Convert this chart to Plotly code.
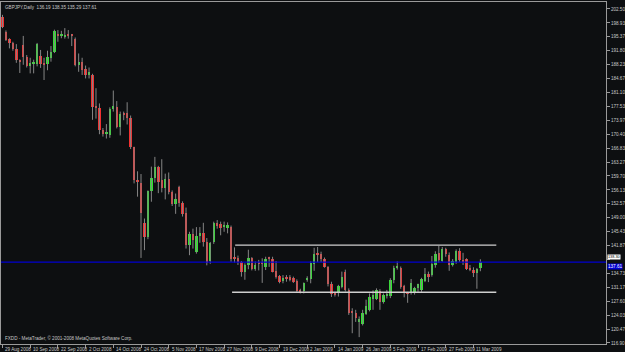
import plotly.graph_objects as go

# ---------------- data (GBPJPY daily) ----------------
opens = [200.4, 196.7, 194.7, 193.9, 192.2, 189.3, 193.3, 190.3, 187.9, 188.4,
         188.3, 190.5, 188.4, 188.3, 190.0, 191.5, 196.1, 195.6, 195.4, 196.0,
         195.7, 194.7, 188.1, 188.8, 187.0, 185.5, 185.6, 177.6, 177.1, 171.5,
         170.5, 170.2, 176.8, 177.4, 172.3, 175.7, 175.8, 174.6, 167.1, 158.7,
         157.9, 147.7, 144.1, 155.8, 159.3, 162.0, 158.6, 156.5, 158.9, 155.6,
         152.4, 156.8, 152.7, 150.2, 142.0, 144.8, 140.2, 144.4, 145.0, 142.8,
         138.0, 142.8, 147.6, 147.3, 146.7, 146.4, 146.6, 138.8, 138.8, 137.7,
         135.2, 136.8, 138.6, 135.8, 137.4, 137.6, 136.4, 138.6, 138.5, 135.3,
         134.0, 132.8, 133.6, 133.8, 133.6, 132.8, 130.3, 130.1, 133.0, 133.3,
         137.1, 139.7, 139.7, 138.5, 136.4, 132.0, 129.5, 129.6, 131.2, 135.2,
         130.5, 124.8, 124.5, 122.2, 121.8, 124.4, 125.4, 128.3, 128.3, 130.3,
         127.5, 129.1, 128.9, 133.1, 136.0, 136.1, 131.5, 129.7, 129.7, 129.9,
         130.9, 130.4, 132.8, 134.6, 134.4, 137.0, 140.0, 138.0, 140.9, 139.5,
         136.9, 137.6, 140.4, 138.1, 138.4, 136.1, 135.6, 134.8, 136.19]
highs = [201.0, 197.0, 195.0, 194.1, 193.5, 189.6, 195.6, 190.7, 190.0, 189.5,
         193.8, 192.0, 190.0, 191.8, 193.0, 197.2, 197.1, 196.9, 197.6, 197.1,
         196.1, 195.2, 191.1, 190.0, 188.0, 187.5, 185.9, 182.2, 178.3, 172.0,
         173.0, 177.3, 181.6, 178.9, 176.2, 176.2, 178.6, 175.2, 167.2, 160.9,
         160.2, 148.8, 156.0, 162.1, 164.6, 162.3, 164.0, 160.3, 160.6, 156.0,
         155.2, 157.2, 153.2, 151.6, 145.4, 146.2, 146.6, 146.6, 147.7, 143.8,
         142.8, 148.0, 148.4, 148.0, 148.0, 147.8, 147.0, 141.4, 139.3, 137.9,
         137.3, 140.8, 138.9, 137.8, 138.2, 138.6, 139.0, 139.0, 139.0, 137.9,
         134.3, 134.3, 134.3, 134.3, 133.9, 133.2, 130.8, 132.4, 134.0, 137.8,
         141.3, 141.5, 140.3, 138.8, 136.6, 132.6, 130.0, 131.8, 135.2, 135.7,
         130.9, 125.8, 125.4, 123.7, 125.4, 128.0, 129.6, 130.4, 130.9, 130.7,
         129.6, 130.5, 133.5, 136.7, 137.8, 136.5, 131.8, 130.0, 133.3, 131.3,
         132.1, 133.6, 136.1, 135.2, 139.2, 140.4, 141.8, 141.5, 141.3, 140.1,
         138.4, 140.9, 141.2, 140.0, 138.6, 136.9, 136.3, 136.1, 138.35]
lows = [197.6, 194.3, 192.4, 191.8, 188.7, 186.1, 188.2, 187.5, 186.0, 186.0,
        187.8, 187.4, 184.3, 186.8, 189.0, 191.2, 194.1, 195.0, 194.9, 194.9,
        193.0, 187.8, 186.4, 185.6, 184.7, 184.7, 174.1, 174.4, 170.4, 169.8,
        169.3, 169.5, 176.2, 171.9, 170.1, 174.0, 172.9, 166.6, 157.8, 154.4,
        138.7, 140.7, 143.5, 153.1, 158.0, 155.3, 155.5, 153.7, 155.0, 152.0,
        150.0, 151.8, 149.3, 141.1, 139.4, 141.1, 139.8, 142.6, 141.6, 136.8,
        137.2, 142.3, 146.2, 144.5, 145.4, 145.0, 137.7, 137.5, 136.9, 133.9,
        133.1, 135.8, 135.5, 135.4, 135.5, 132.3, 135.6, 136.4, 135.0, 133.4,
        132.2, 132.2, 132.6, 132.7, 132.3, 130.0, 129.6, 129.6, 132.6, 132.2,
        135.4, 137.6, 137.6, 136.2, 131.4, 128.7, 128.8, 128.8, 130.9, 130.1,
        124.1, 119.4, 122.3, 118.4, 121.4, 124.1, 125.0, 125.4, 127.9, 125.4,
        127.0, 128.3, 128.4, 132.2, 135.7, 130.8, 128.6, 127.2, 129.3, 129.3,
        130.0, 130.0, 132.5, 132.5, 133.9, 136.2, 137.4, 137.7, 139.0, 135.4,
        136.5, 137.2, 137.7, 136.9, 135.6, 135.3, 133.8, 130.8, 135.29]
closes = [197.9, 194.6, 193.7, 192.2, 189.3, 189.1, 190.3, 187.9, 188.6, 188.6,
          193.5, 188.3, 188.2, 190.2, 191.6, 196.9, 195.8, 195.7, 195.9, 195.7,
          195.6, 188.1, 188.8, 186.9, 185.6, 186.3, 177.3, 177.2, 171.5, 170.5,
          171.0, 176.9, 177.6, 172.3, 175.6, 175.5, 174.6, 167.1, 158.7, 158.1,
          150.2, 144.1, 155.8, 159.3, 162.1, 158.2, 156.5, 158.9, 155.6, 152.4,
          153.9, 152.7, 150.0, 142.0, 144.8, 143.2, 144.3, 145.2, 142.9, 137.5,
          142.6, 147.6, 147.0, 146.3, 146.8, 147.2, 138.4, 138.6, 137.7, 135.2,
          136.9, 138.6, 135.8, 137.0, 137.3, 137.2, 138.5, 138.5, 135.2, 133.8,
          132.6, 133.6, 133.5, 133.0, 132.6, 130.3, 130.2, 132.2, 133.6, 137.3,
          139.7, 139.6, 138.4, 136.5, 132.0, 129.5, 129.4, 131.5, 133.8, 130.5,
          124.7, 124.6, 123.2, 123.1, 124.7, 126.3, 128.7, 129.1, 130.5, 127.5,
          129.1, 129.2, 133.1, 136.1, 136.6, 131.3, 129.8, 129.6, 132.3, 131.0,
          131.9, 133.3, 134.6, 133.8, 137.2, 139.7, 138.2, 140.9, 139.7, 136.8,
          137.9, 140.5, 138.1, 137.9, 135.9, 135.5, 134.8, 135.9, 137.61]

date_label_bars = [0, 8, 16, 24, 32, 40, 48, 56, 64, 72, 80, 88, 96, 104, 112, 120, 128, 136]
date_labels = ["29 Aug 2008", "10 Sep 2008", "22 Sep 2008", "2 Oct 2008", "14 Oct 2008",
               "24 Oct 2008", "5 Nov 2008", "17 Nov 2008", "27 Nov 2008", "9 Dec 2008",
               "19 Dec 2008", "2 Jan 2009", "14 Jan 2009", "26 Jan 2009", "5 Feb 2009",
               "17 Feb 2009", "27 Feb 2009", "11 Mar 2009"]

price_ticks = [202.50, 198.93, 195.37, 191.80, 188.23, 184.67, 181.10, 177.53, 173.97,
               170.40, 166.83, 163.27, 159.70, 156.13, 152.57, 149.00, 145.43, 141.87,
               138.30, 134.73, 131.17, 127.60, 124.03, 120.47, 116.90]
highlighted_tick = 138.30   # tick label drawn on a white box near the bid

resistance_level = 142.0
support_level = 129.9
resistance_span = [67.2, 142.6]
support_span = [66.3, 142.6]

title_text = "GBPJPY,Daily  136.19 138.35 135.29 137.61"
footer_text = "FXDD - MetaTrader, \u00a9 2001-2008 MetaQuotes Software Corp."

# ---------------- styling ----------------
BG = "#0d0f11"
TXT = "#c8c8c8"
BULL = "#2ee62e"
BEAR = "#f23030"
DOJI = "#c8c8c8"
WICK = "#858585"
FONT = "Liberation Sans"

n = len(closes)
idx = list(range(n))
bid = closes[-1]

wx, wy = [], []
for i in range(n):
    wx += [i, i, None]
    wy += [lows[i], highs[i], None]

base, height, colors = [], [], []
for o, c in zip(opens, closes):
    base.append(min(o, c))
    height.append(max(abs(c - o), 0.28))
    colors.append(BULL if c > o else (BEAR if c < o else DOJI))

fig = go.Figure()
fig.add_trace(go.Scatter(x=wx, y=wy, mode="lines",
                         line=dict(color=WICK, width=1), hoverinfo="skip",
                         showlegend=False))
fig.add_trace(go.Bar(x=idx, y=height, base=base, width=0.68,
                     marker=dict(color=colors, line=dict(width=0)),
                     showlegend=False))

# support / resistance lines
fig.add_shape(type="line", x0=resistance_span[0], x1=resistance_span[1],
              y0=resistance_level, y1=resistance_level,
              line=dict(color="#cfcfcf", width=1.3))
fig.add_shape(type="line", x0=support_span[0], x1=support_span[1],
              y0=support_level, y1=support_level,
              line=dict(color="#cfcfcf", width=1.3))
# bid line
fig.add_shape(type="line", xref="paper", x0=0, x1=1, y0=bid, y1=bid,
              line=dict(color="#0000d0", width=1.3))

annotations = []
for b, t in zip(date_label_bars, date_labels):
    annotations.append(dict(x=b, y=0, xref="x", yref="paper", text=t,
                            showarrow=False, xanchor="left", yanchor="top",
                            xshift=1, yshift=-1,
                            font=dict(size=4.6, color=TXT, family=FONT)))
annotations.append(dict(x=0, y=1, xref="paper", yref="paper", text=title_text,
                        showarrow=False, xanchor="left", yanchor="top",
                        xshift=2, yshift=-1,
                        font=dict(size=4.6, color=TXT, family=FONT)))
annotations.append(dict(x=0, y=0, xref="paper", yref="paper", text=footer_text,
                        showarrow=False, xanchor="left", yanchor="bottom",
                        xshift=2, yshift=1,
                        font=dict(size=4.6, color=TXT, family=FONT)))
# price label boxes on the right axis
annotations.append(dict(x=1, y=highlighted_tick, xref="paper", yref="y",
                        text=f"{highlighted_tick:.2f}", showarrow=False,
                        xanchor="left", yanchor="bottom", xshift=1, yshift=-1,
                        bgcolor="#ffffff", borderpad=0,
                        font=dict(size=3.8, color="#000000", family=FONT)))
annotations.append(dict(x=1, y=bid, xref="paper", yref="y",
                        text=f"{bid:.2f}", showarrow=False,
                        xanchor="left", yanchor="top", xshift=1, yshift=-1,
                        bgcolor="#0000d0", borderpad=0,
                        font=dict(size=4.6, color="#ffffff", family=FONT)))

tick_text = ["" if v == highlighted_tick else f"{v:.2f}" for v in price_ticks]

fig.update_layout(
    width=625, height=352,
    margin=dict(l=0, r=17, t=2, b=8),
    paper_bgcolor=BG, plot_bgcolor=BG,
    showlegend=False, bargap=0,
    annotations=annotations,
    xaxis=dict(range=[-0.43, 174.28], showgrid=False, zeroline=False,
               tickmode="array", tickvals=date_label_bars, ticktext=[""] * len(date_label_bars),
               ticks="outside", ticklen=3, tickcolor="#9a9a9a",
               showline=True, linecolor="#9a9a9a", linewidth=1, mirror=True),
    yaxis=dict(range=[116.64, 204.29], side="right", showgrid=False, zeroline=False,
               tickmode="array", tickvals=price_ticks, ticktext=tick_text,
               ticks="outside", ticklen=3, tickcolor="#9a9a9a",
               tickfont=dict(size=4.6, color=TXT, family=FONT),
               showline=True, linecolor="#9a9a9a", linewidth=1, mirror=True),
)

fig.write_html("out.html", config={"displayModeBar": False})
